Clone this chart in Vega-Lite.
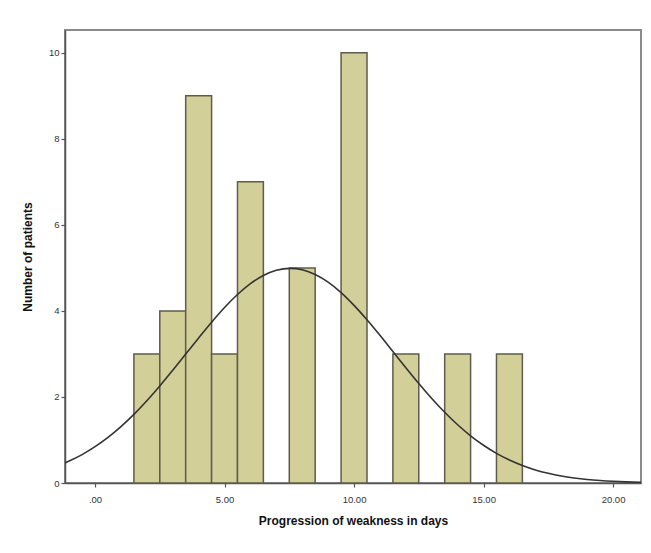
{
  "$schema": "https://vega.github.io/schema/vega-lite/v6.json",
  "width": 576,
  "height": 453,
  "autosize": "none",
  "padding": {"left": 65, "top": 30, "right": 10, "bottom": 70},
  "background": "white",
  "config": {
    "font": "Liberation Sans",
    "view": {"stroke": "#8a8a8a", "strokeWidth": 2},
    "axis": {
      "domainColor": "#555555",
      "domainWidth": 1.5,
      "tickColor": "#555555",
      "tickSize": 4,
      "tickWidth": 1.2,
      "labelColor": "#333333",
      "labelFontSize": 9.5,
      "titleFontSize": 12,
      "titleFontWeight": "bold",
      "titleColor": "#111111",
      "grid": false
    }
  },
  "datasets": {
    "bars": [
      {"start": 1.5, "end": 2.5, "count": 3},
      {"start": 2.5, "end": 3.5, "count": 4},
      {"start": 3.5, "end": 4.5, "count": 9},
      {"start": 4.5, "end": 5.5, "count": 3},
      {"start": 5.5, "end": 6.5, "count": 7},
      {"start": 7.5, "end": 8.5, "count": 5},
      {"start": 9.5, "end": 10.5, "count": 10},
      {"start": 11.5, "end": 12.5, "count": 3},
      {"start": 13.5, "end": 14.5, "count": 3},
      {"start": 15.5, "end": 16.5, "count": 3}
    ],
    "curve": [
      {"x": -1.16, "y": 0.47},
      {"x": -1, "y": 0.511},
      {"x": -0.5, "y": 0.66},
      {"x": 0, "y": 0.844},
      {"x": 0.5, "y": 1.06},
      {"x": 1, "y": 1.311},
      {"x": 1.5, "y": 1.596},
      {"x": 2, "y": 1.913},
      {"x": 2.5, "y": 2.256},
      {"x": 3, "y": 2.621},
      {"x": 3.5, "y": 2.997},
      {"x": 4, "y": 3.373},
      {"x": 4.5, "y": 3.738},
      {"x": 5, "y": 4.079},
      {"x": 5.5, "y": 4.381},
      {"x": 6, "y": 4.634},
      {"x": 6.5, "y": 4.824},
      {"x": 7, "y": 4.945},
      {"x": 7.54, "y": 4.99},
      {"x": 8, "y": 4.957},
      {"x": 8.5, "y": 4.848},
      {"x": 9, "y": 4.669},
      {"x": 9.5, "y": 4.426},
      {"x": 10, "y": 4.13},
      {"x": 10.5, "y": 3.795},
      {"x": 11, "y": 3.433},
      {"x": 11.5, "y": 3.057},
      {"x": 12, "y": 2.68},
      {"x": 12.5, "y": 2.313},
      {"x": 13, "y": 1.966},
      {"x": 13.5, "y": 1.645},
      {"x": 14, "y": 1.354},
      {"x": 14.5, "y": 1.098},
      {"x": 15, "y": 0.877},
      {"x": 15.5, "y": 0.689},
      {"x": 16, "y": 0.533},
      {"x": 16.5, "y": 0.406},
      {"x": 17, "y": 0.304},
      {"x": 17.5, "y": 0.225},
      {"x": 18, "y": 0.163},
      {"x": 18.5, "y": 0.117},
      {"x": 19, "y": 0.082},
      {"x": 19.5, "y": 0.057},
      {"x": 20, "y": 0.039},
      {"x": 20.5, "y": 0.026},
      {"x": 21.08, "y": 0.016}
    ]
  },
  "layer": [
    {
      "data": {"name": "bars"},
      "mark": {"type": "rect", "fill": "#d3cf98", "stroke": "#5e5c4c", "strokeWidth": 1.5},
      "encoding": {
        "x": {
          "field": "start",
          "type": "quantitative",
          "scale": {"domain": [-1.16, 21.08], "nice": false, "zero": false},
          "axis": {
            "values": [0, 5, 10, 15, 20],
            "labelExpr": "datum.value == 0 ? '.00' : format(datum.value, '.2f')",
            "title": "Progression of weakness in days",
            "titlePadding": 12,
            "labelPadding": 7
          }
        },
        "x2": {"field": "end"},
        "y": {
          "field": "count",
          "type": "quantitative",
          "scale": {"domain": [0, 10.53], "nice": false},
          "axis": {
            "values": [0, 2, 4, 6, 8, 10],
            "title": "Number of patients",
            "titlePadding": 14,
            "labelPadding": 2
          }
        },
        "y2": {"datum": 0}
      }
    },
    {
      "data": {"name": "curve"},
      "mark": {"type": "line", "color": "#333333", "strokeWidth": 1.6, "interpolate": "monotone", "clip": true},
      "encoding": {
        "x": {"field": "x", "type": "quantitative"},
        "y": {"field": "y", "type": "quantitative"}
      }
    }
  ]
}
